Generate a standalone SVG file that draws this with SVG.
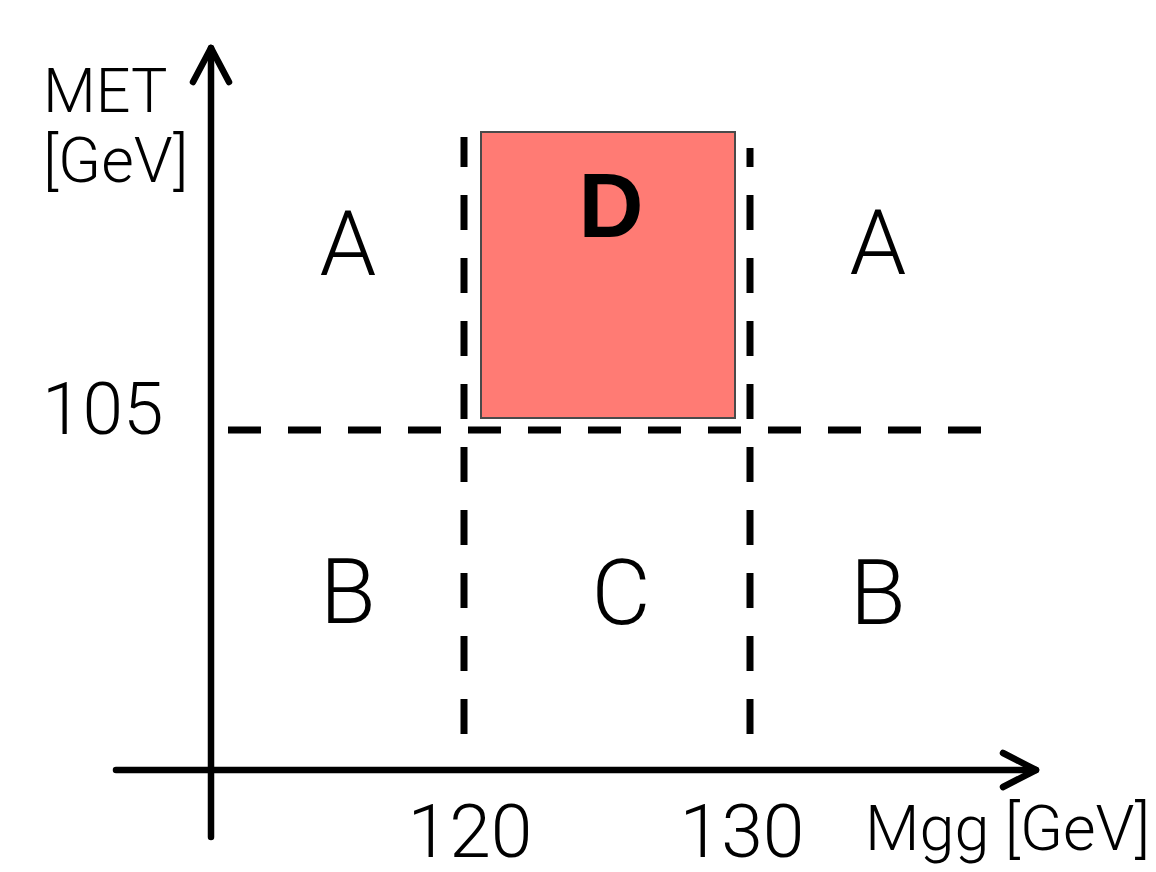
<svg xmlns="http://www.w3.org/2000/svg" width="1156" height="872" viewBox="0 0 1156 872">
  <style>
    .lbl { font-family: Roboto, "Liberation Sans", Arial, sans-serif; font-weight: 300; fill: #000; }
    .region { font-size: 91px; text-anchor: middle; }
    .bold { font-family: "Liberation Sans", Arial, sans-serif; font-weight: 700; font-size: 90px; text-anchor: middle; fill: #000; }
    .axis { fill: none; stroke: #000; stroke-width: 6.5; stroke-linecap: round; stroke-linejoin: round; }
    .cut { fill: none; stroke: #000; stroke-width: 7; }
    .cut-v { stroke-dasharray: 35 28; }
    .cut-h { stroke-dasharray: 33 27; }
  </style>
  <rect width="1156" height="872" fill="#fff"/>

  <!-- signal region D -->
  <g id="region-d">
    <rect x="481" y="132" width="254" height="286" fill="#FF7B74" stroke="#4a4a4a" stroke-width="2"/>
    <text class="bold" x="611" y="237">D</text>
  </g>

  <!-- cut lines and axes -->
  <g id="connectors">
    <line class="cut cut-v" x1="464" y1="137" x2="464" y2="734" stroke-dashoffset="5"/>
    <line class="cut cut-v" x1="750" y1="148" x2="750" y2="734" stroke-dashoffset="16"/>
    <line class="cut cut-h" x1="228" y1="430" x2="985" y2="430"/>
    <line class="axis" x1="211" y1="837" x2="211" y2="48"/>
    <path class="axis" d="M193,82 L211,48 L229,82"/>
    <line class="axis" x1="116" y1="770" x2="1036" y2="770"/>
    <path class="axis" d="M1003,753 L1036,770 L1003,787"/>
  </g>

  <!-- axis labels -->
  <g id="y-label">
    <text class="lbl" x="43" y="112" font-size="61">MET</text>
    <text class="lbl" x="43" y="182" font-size="63">[GeV]</text>
  </g>
  <g id="x-label">
    <text class="lbl" x="865" y="850" font-size="63">Mgg [GeV]</text>
  </g>
  <g id="tick-105"><text class="lbl" x="42" y="434" font-size="73">105</text></g>
  <g id="tick-120"><text class="lbl" x="470" y="857" font-size="75" text-anchor="middle">120</text></g>
  <g id="tick-130"><text class="lbl" x="742" y="857" font-size="75" text-anchor="middle">130</text></g>

  <!-- sideband regions -->
  <g id="region-a-left"><text class="lbl region" x="348" y="275">A</text></g>
  <g id="region-a-right"><text class="lbl region" x="878" y="274">A</text></g>
  <g id="region-b-left"><text class="lbl region" x="348" y="623">B</text></g>
  <g id="region-c"><text class="lbl region" x="621" y="624">C</text></g>
  <g id="region-b-right"><text class="lbl region" x="878" y="624">B</text></g>
</svg>
